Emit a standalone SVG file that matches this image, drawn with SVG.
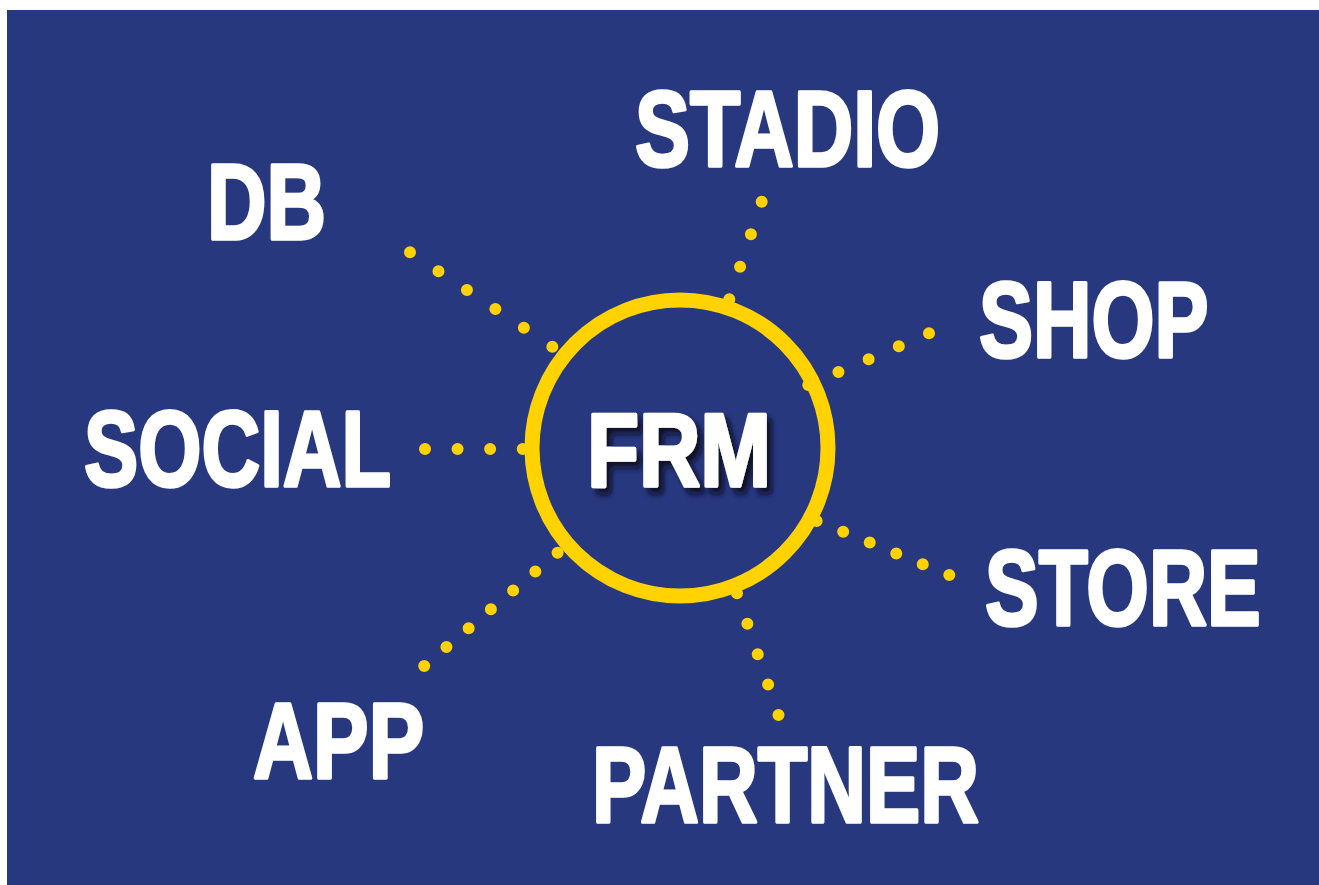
<svg xmlns="http://www.w3.org/2000/svg" width="1319" height="885" viewBox="0 0 1319 885">
  <style>
    .bg { fill: #27387F; }
    .ring { fill: none; stroke: #FFD200; stroke-width: 15; }
    .lbl { font-family: "Liberation Sans", Arial, sans-serif; font-weight: bold; font-size: 107px; fill: #FFFFFF; stroke: #FFFFFF; stroke-width: 3.5; stroke-linejoin: round; }
    .hub { font-family: "Liberation Sans", Arial, sans-serif; font-weight: bold; font-size: 103px; fill: #FFFFFF; stroke: #FFFFFF; stroke-width: 3.5; stroke-linejoin: round; }
    .dots { fill: none; stroke: #FFD200; stroke-width: 12; stroke-linecap: round; }
  </style>
  <defs>
    <filter id="shadow" x="-20%" y="-20%" width="150%" height="150%">
      <feDropShadow dx="6" dy="6" stdDeviation="3" flood-color="#070b22" flood-opacity="0.95"/>
    </filter>
  </defs>
  <rect class="bg" x="7" y="10" width="1312" height="875"/>

  <g id="connectors">
    <line id="c-stadio" class="dots" x1="761.7" y1="201.7" x2="729.2" y2="299.6" stroke-dasharray="0 34.27"/>
    <line id="c-db" class="dots" x1="410" y1="252.3" x2="552.6" y2="346.9" stroke-dasharray="0 34.16"/>
    <line id="c-social" class="dots" x1="425" y1="449" x2="523" y2="449" stroke-dasharray="0 32.57"/>
    <line id="c-shop" class="dots" x1="929" y1="333.3" x2="808" y2="385.1" stroke-dasharray="0 32.83"/>
    <line id="c-store" class="dots" x1="949.3" y1="575" x2="816.4" y2="520.9" stroke-dasharray="0 28.64"/>
    <line id="c-app" class="dots" x1="424.2" y1="666" x2="557.8" y2="552.5" stroke-dasharray="0 29.17"/>
    <line id="c-partner" class="dots" x1="778.5" y1="715" x2="736.9" y2="593" stroke-dasharray="0 32.15"/>
  </g>

  <g id="node-frm">
    <circle class="ring" cx="680" cy="448" r="148"/>
    <text class="hub" transform="translate(587 486) scale(0.825 1)" filter="url(#shadow)">FRM</text>
  </g>
  <g id="node-stadio">
    <text class="lbl" transform="translate(635 166) scale(0.77 1)">STADIO</text>
  </g>
  <g id="node-db">
    <text class="lbl" transform="translate(207 239) scale(0.77 1)">DB</text>
  </g>
  <g id="node-shop">
    <text class="lbl" transform="translate(979 357) scale(0.757 1)">SHOP</text>
  </g>
  <g id="node-social">
    <text class="lbl" transform="translate(84 486) scale(0.76 1)">SOCIAL</text>
  </g>
  <g id="node-store">
    <text class="lbl" transform="translate(985 625) scale(0.752 1)">STORE</text>
  </g>
  <g id="node-app">
    <text class="lbl" transform="translate(253 778) scale(0.778 1)">APP</text>
  </g>
  <g id="node-partner">
    <text class="lbl" transform="translate(592 822) scale(0.76 1)">PARTNER</text>
  </g>
</svg>
